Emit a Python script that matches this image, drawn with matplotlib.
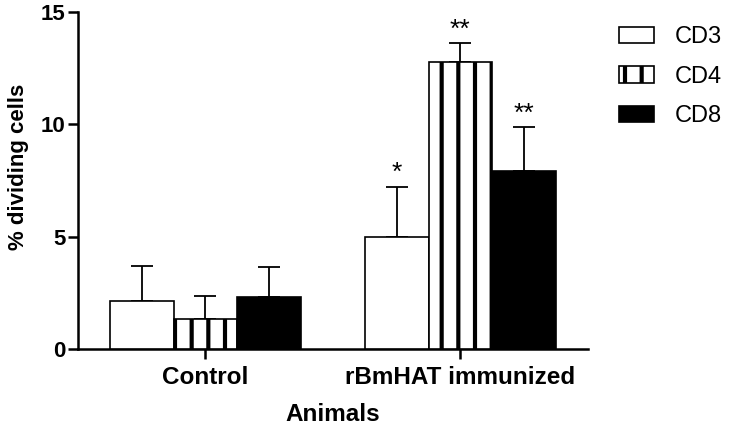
import matplotlib as mpl
mpl.use('Agg')
import matplotlib.pyplot as plt
import numpy as np

groups = ['Control', 'rBmHAT immunized']
cells = ['CD3', 'CD4', 'CD8']
# mean % dividing cells, one list per cell type (Control, rBmHAT immunized)
cd3 = [2.12, 5.0]
cd4 = [1.35, 12.76]
cd8 = [2.30, 7.94]
# upper error (SEM)
cd3_err = [1.56, 2.23]
cd4_err = [0.99, 0.84]
cd8_err = [1.33, 1.93]
# significance marks (Control, rBmHAT immunized)
cd3_sig = ['', '*']
cd4_sig = ['', '**']
cd8_sig = ['', '**']

plt.rcParams['font.family'] = 'Liberation Sans'
plt.rcParams['hatch.linewidth'] = 3.0
plt.rcParams['hatch.color'] = 'black'

fig = plt.figure(figsize=(7.33, 4.26), dpi=100)
ax = fig.add_axes([0.1064, 0.1808, 0.6956, 0.791])

x = np.arange(len(groups))
w = 0.25
styles = [dict(color='white', hatch=None), dict(color='white', hatch='|'), dict(color='black', hatch=None)]
for i, (vals, errs, sig) in enumerate(zip([cd3, cd4, cd8], [cd3_err, cd4_err, cd8_err], [cd3_sig, cd4_sig, cd8_sig])):
    pos = x + (i - 1) * w
    ax.bar(pos, vals, w, color=styles[i]['color'], hatch=styles[i]['hatch'],
           edgecolor='black', linewidth=1.2, label=cells[i], zorder=3)
    ax.errorbar(pos, vals, yerr=[np.zeros(len(vals)), errs], fmt='none', ecolor='black',
                elinewidth=1.3, capsize=8, capthick=1.3, zorder=2)
    for p, v, e, s in zip(pos, vals, errs, sig):
        if s:
            ax.annotate(s, (p, v + e), xytext=(0, 1), textcoords='offset points',
                        ha='center', va='bottom', fontsize=19)

ax.set_xlim(-0.5, 1.5)
ax.set_ylim(0, 15)
ax.set_yticks([0, 5, 10, 15])
ax.set_xticks(x)
ax.set_xticklabels(groups)
for s in ['top', 'right']:
    ax.spines[s].set_visible(False)
for s in ['left', 'bottom']:
    ax.spines[s].set_linewidth(1.8)
ax.tick_params(axis='both', direction='out', length=7.5, width=1.8)
ax.tick_params(axis='y', labelsize=16, pad=1.5)
ax.tick_params(axis='x', labelsize=17.5, pad=5)
for lab in ax.get_xticklabels() + ax.get_yticklabels():
    lab.set_fontweight('bold')
ax.set_ylabel('% dividing cells', fontsize=16, fontweight='bold')
ax.yaxis.set_label_coords(-0.096, 0.54)
ax.set_xlabel('Animals', fontsize=17.5, fontweight='bold', labelpad=10)

fig.legend(loc='upper left', bbox_to_anchor=(0.832, 0.96), frameon=False, fontsize=17,
           handlelength=1.45, handleheight=0.7, handletextpad=0.9, labelspacing=0.74,
           borderaxespad=0)

plt.savefig('out.png', dpi=100)
plt.close()
